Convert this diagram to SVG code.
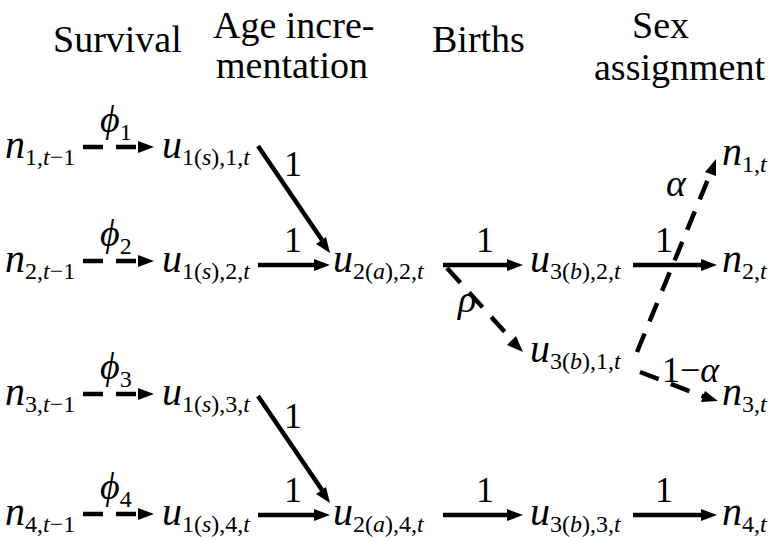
<svg xmlns="http://www.w3.org/2000/svg" width="770" height="541" viewBox="0 0 770 541">
<g id="headers">
<text x="53" y="52" font-size="38" font-family="Liberation Serif">Survival</text>
<text x="213" y="38" font-size="38" font-family="Liberation Serif">Age incre-</text>
<text x="216" y="78" font-size="38" font-family="Liberation Serif">mentation</text>
<text x="432" y="52" font-size="38" font-family="Liberation Serif">Births</text>
<text x="632" y="38" font-size="38" font-family="Liberation Serif">Sex</text>
<text x="594" y="80" font-size="38" font-family="Liberation Serif">assignment</text>
</g>
<g id="connectors" stroke="#000" stroke-width="4.5" fill="none">
<path d="M83,147 H140" stroke-dasharray="20 13"/>
<path d="M83,261 H140" stroke-dasharray="20 13"/>
<path d="M83,394 H140" stroke-dasharray="20 13"/>
<path d="M83,514 H140" stroke-dasharray="20 13"/>
<path d="M447,268 L513,341" stroke-dasharray="20 13"/>
<path d="M637,352 L711,172" stroke-dasharray="20 13"/>
<path d="M640,372 L705,397" stroke-dasharray="20 13"/>
<path d="M258,146 L322,240"/>
<path d="M258,265 H316"/>
<path d="M258,396 L322,490"/>
<path d="M258,515 H316"/>
<path d="M443,265 H509"/>
<path d="M443,515 H509"/>
<path d="M633,265 H703"/>
<path d="M633,515 H703"/>
<g fill="#000" stroke="none">
<path d="M138,141 L154,147 L138,153 Z"/>
<path d="M138,255 L154,261 L138,267 Z"/>
<path d="M138,388 L154,394 L138,400 Z"/>
<path d="M138,508 L154,514 L138,520 Z"/>
<path d="M314,259 L330,265 L314,271 Z"/>
<path d="M314,509 L330,515 L314,521 Z"/>
<path d="M507,259 L523,265 L507,271 Z"/>
<path d="M507,509 L523,515 L507,521 Z"/>
<path d="M701,259 L717,265 L701,271 Z"/>
<path d="M701,509 L717,515 L701,521 Z"/>
<path d="M316,244 L330,253 L326,237 Z"/>
<path d="M316,494 L330,503 L326,487 Z"/>
<path d="M507,345 L523,352 L516,336 Z"/>
<path d="M705,172 L716,159 L716,176 Z"/>
<path d="M701,402 L718,401 L705,391 Z"/>
</g>
</g>
<g id="labels">
<text x="100" y="132" font-size="38" font-style="italic" font-family="Liberation Serif">ϕ<tspan font-style="normal" font-size="24" dy="8">1</tspan></text>
<text x="100" y="246" font-size="38" font-style="italic" font-family="Liberation Serif">ϕ<tspan font-style="normal" font-size="24" dy="8">2</tspan></text>
<text x="100" y="379" font-size="38" font-style="italic" font-family="Liberation Serif">ϕ<tspan font-style="normal" font-size="24" dy="8">3</tspan></text>
<text x="100" y="499" font-size="38" font-style="italic" font-family="Liberation Serif">ϕ<tspan font-style="normal" font-size="24" dy="8">4</tspan></text>
<text x="458" y="312" font-size="38" font-style="italic" font-family="Liberation Serif">ρ</text>
<text x="666" y="196" font-size="38" font-style="italic" font-family="Liberation Serif">α</text>
<text x="284" y="176" font-size="36" font-family="Liberation Serif">1</text>
<text x="284" y="252" font-size="36" font-family="Liberation Serif">1</text>
<text x="284" y="428" font-size="36" font-family="Liberation Serif">1</text>
<text x="284" y="502" font-size="36" font-family="Liberation Serif">1</text>
<text x="476" y="252" font-size="36" font-family="Liberation Serif">1</text>
<text x="476" y="502" font-size="36" font-family="Liberation Serif">1</text>
<text x="655" y="252" font-size="36" font-family="Liberation Serif">1</text>
<text x="655" y="502" font-size="36" font-family="Liberation Serif">1</text>
<text x="662" y="382" font-size="36" font-family="Liberation Serif">1−<tspan font-style="italic">α</tspan></text>
</g>
<g id="n1tm1"><text x="5" y="158" font-size="40" font-style="italic" font-family="Liberation Serif">n<tspan font-size="24" font-style="normal" dy="7">1,</tspan><tspan font-size="24">t</tspan><tspan font-size="24" font-style="normal">−1</tspan></text></g>
<g id="n2tm1"><text x="5" y="272" font-size="40" font-style="italic" font-family="Liberation Serif">n<tspan font-size="24" font-style="normal" dy="7">2,</tspan><tspan font-size="24">t</tspan><tspan font-size="24" font-style="normal">−1</tspan></text></g>
<g id="n3tm1"><text x="5" y="405" font-size="40" font-style="italic" font-family="Liberation Serif">n<tspan font-size="24" font-style="normal" dy="7">3,</tspan><tspan font-size="24">t</tspan><tspan font-size="24" font-style="normal">−1</tspan></text></g>
<g id="n4tm1"><text x="5" y="525" font-size="40" font-style="italic" font-family="Liberation Serif">n<tspan font-size="24" font-style="normal" dy="7">4,</tspan><tspan font-size="24">t</tspan><tspan font-size="24" font-style="normal">−1</tspan></text></g>
<g id="u1s1"><text x="162" y="158" font-size="40" font-style="italic" font-family="Liberation Serif">u<tspan font-size="24" font-style="normal" dy="7">1(</tspan><tspan font-size="24">s</tspan><tspan font-size="24" font-style="normal">),1,</tspan><tspan font-size="24">t</tspan></text></g>
<g id="u1s2"><text x="162" y="272" font-size="40" font-style="italic" font-family="Liberation Serif">u<tspan font-size="24" font-style="normal" dy="7">1(</tspan><tspan font-size="24">s</tspan><tspan font-size="24" font-style="normal">),2,</tspan><tspan font-size="24">t</tspan></text></g>
<g id="u1s3"><text x="162" y="405" font-size="40" font-style="italic" font-family="Liberation Serif">u<tspan font-size="24" font-style="normal" dy="7">1(</tspan><tspan font-size="24">s</tspan><tspan font-size="24" font-style="normal">),3,</tspan><tspan font-size="24">t</tspan></text></g>
<g id="u1s4"><text x="162" y="525" font-size="40" font-style="italic" font-family="Liberation Serif">u<tspan font-size="24" font-style="normal" dy="7">1(</tspan><tspan font-size="24">s</tspan><tspan font-size="24" font-style="normal">),4,</tspan><tspan font-size="24">t</tspan></text></g>
<g id="u2a2"><text x="333" y="272" font-size="40" font-style="italic" font-family="Liberation Serif">u<tspan font-size="24" font-style="normal" dy="7">2(</tspan><tspan font-size="24">a</tspan><tspan font-size="24" font-style="normal">),2,</tspan><tspan font-size="24">t</tspan></text></g>
<g id="u2a4"><text x="333" y="525" font-size="40" font-style="italic" font-family="Liberation Serif">u<tspan font-size="24" font-style="normal" dy="7">2(</tspan><tspan font-size="24">a</tspan><tspan font-size="24" font-style="normal">),4,</tspan><tspan font-size="24">t</tspan></text></g>
<g id="u3b2"><text x="530" y="272" font-size="40" font-style="italic" font-family="Liberation Serif">u<tspan font-size="24" font-style="normal" dy="7">3(</tspan><tspan font-size="24">b</tspan><tspan font-size="24" font-style="normal">),2,</tspan><tspan font-size="24">t</tspan></text></g>
<g id="u3b1"><text x="530" y="362" font-size="40" font-style="italic" font-family="Liberation Serif">u<tspan font-size="24" font-style="normal" dy="7">3(</tspan><tspan font-size="24">b</tspan><tspan font-size="24" font-style="normal">),1,</tspan><tspan font-size="24">t</tspan></text></g>
<g id="u3b3"><text x="530" y="525" font-size="40" font-style="italic" font-family="Liberation Serif">u<tspan font-size="24" font-style="normal" dy="7">3(</tspan><tspan font-size="24">b</tspan><tspan font-size="24" font-style="normal">),3,</tspan><tspan font-size="24">t</tspan></text></g>
<g id="n1t"><text x="722" y="165" font-size="40" font-style="italic" font-family="Liberation Serif">n<tspan font-size="24" font-style="normal" dy="7">1,</tspan><tspan font-size="24">t</tspan></text></g>
<g id="n2t"><text x="722" y="272" font-size="40" font-style="italic" font-family="Liberation Serif">n<tspan font-size="24" font-style="normal" dy="7">2,</tspan><tspan font-size="24">t</tspan></text></g>
<g id="n3t"><text x="722" y="405" font-size="40" font-style="italic" font-family="Liberation Serif">n<tspan font-size="24" font-style="normal" dy="7">3,</tspan><tspan font-size="24">t</tspan></text></g>
<g id="n4t"><text x="722" y="525" font-size="40" font-style="italic" font-family="Liberation Serif">n<tspan font-size="24" font-style="normal" dy="7">4,</tspan><tspan font-size="24">t</tspan></text></g>
</svg>
